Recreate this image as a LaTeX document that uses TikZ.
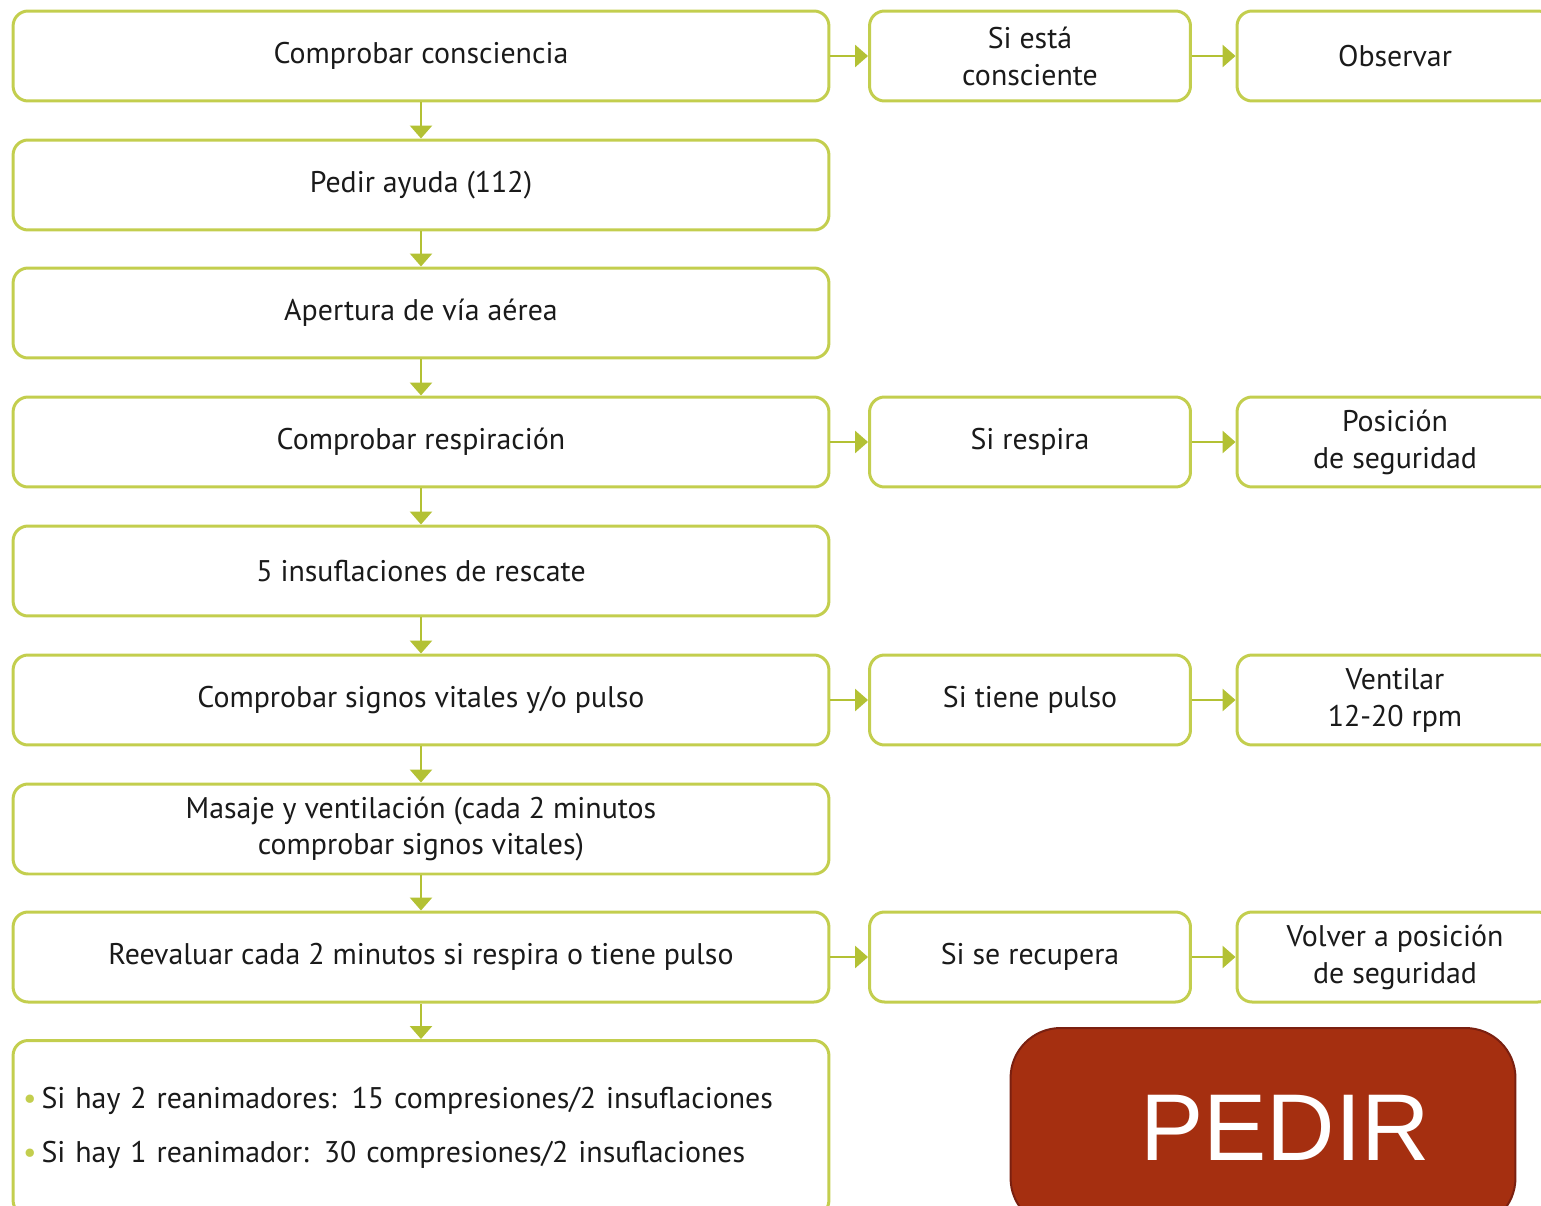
\documentclass[tikz,border=0pt]{standalone}
\usepackage{fontspec}
\setmainfont{PT Sans}
\newfontfamily\pedirfont{Liberation Sans}
\usetikzlibrary{arrows.meta,positioning}
\definecolor{rcpverde}{HTML}{C3CE4E}
\definecolor{rcpflecha}{HTML}{B3C134}
\definecolor{rcprojo}{HTML}{A52F10}
\definecolor{rcpborde}{HTML}{7A2010}
\definecolor{rcptexto}{HTML}{1A1A1A}

\begin{document}
\begin{tikzpicture}[x=0.02cm,y=-0.02cm,
    caja/.style={draw=rcpverde, line width=0.06cm, rounded corners=0.3cm,
      minimum height=1.8cm, align=center, text=rcptexto,
      font=\fontsize{17}{21}\selectfont},
    paso/.style={caja, minimum width=16.32cm},
    cond/.style={caja, minimum width=6.42cm},
    accion/.style={caja, minimum width=6.32cm},
    flecha/.style={draw=rcpflecha, line width=0.055cm,
      -{Triangle[length=0.26cm,width=0.44cm]}}]

  \useasboundingbox (0,0) rectangle (1541,1206);

  % columna principal
  \node[paso] (conciencia) at (421,56) {Comprobar consciencia};
  \node[paso] (ayuda) at (421,185) {Pedir ayuda (112)};
  \node[paso] (via) at (421,313) {Apertura de vía aérea};
  \node[paso] (respiracion) at (421,442) {Comprobar respiración};
  \node[paso] (insuflaciones) at (421,571) {5 insuflaciones de rescate};
  \node[paso] (signos) at (421,700) {Comprobar signos vitales y/o pulso};
  \node[paso] (masaje) at (421,829) {Masaje y ventilación (cada 2 minutos\\comprobar signos vitales)};
  \node[paso] (reevaluar) at (421,957) {Reevaluar cada 2 minutos si respira o tiene pulso};
  \node[paso, minimum height=3.5cm, text width=15.92cm, align=left,
    font=\fontsize{17}{31}\selectfont] (compresiones) at (421,1128)
    {{\color{rcpverde}\textbullet}\,Si hay 2 reanimadores: 15 compresiones/2 insuflaciones\\
     {\color{rcpverde}\textbullet}\,Si hay 1 reanimador: 30 compresiones/2 insuflaciones};

  % condiciones
  \node[cond] (consciente) at (1030,56) {Si está\\consciente};
  \node[cond] (respira) at (1030,442) {Si respira};
  \node[cond] (pulso) at (1030,700) {Si tiene pulso};
  \node[cond] (recupera) at (1030,957) {Si se recupera};

  % acciones
  \node[accion] (observar) at (1395,56) {Observar};
  \node[accion] (seguridad) at (1395,442) {Posición\\de seguridad};
  \node[accion] (ventilar) at (1395,700) {Ventilar\\12-20 rpm};
  \node[accion] (volver) at (1395,957) {Volver a posición\\de seguridad};

  % boton
  \node[draw=rcpborde, fill=rcprojo, line width=0.04cm, rounded corners=1cm,
    minimum width=10.1cm, minimum height=4cm] (pedir) at (1263,1128) {};
  \node[text=white, font=\pedirfont\fontsize{54}{60}\selectfont] (pedirtxt)
    at (1285,1128) {PEDIR};

  \foreach \a/\b in {conciencia/ayuda, ayuda/via, via/respiracion,
      respiracion/insuflaciones, insuflaciones/signos, signos/masaje,
      masaje/reevaluar, reevaluar/compresiones}
    \draw[flecha] (\a) -- (\b);
  \foreach \a/\b in {conciencia/consciente, consciente/observar,
      respiracion/respira, respira/seguridad, signos/pulso, pulso/ventilar,
      reevaluar/recupera, recupera/volver}
    \draw[flecha] (\a) -- (\b);
\end{tikzpicture}
\end{document}
